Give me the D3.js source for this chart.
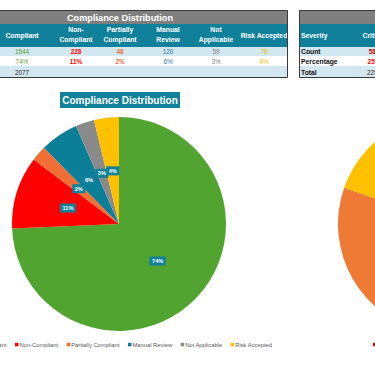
<!DOCTYPE html>
<html>
<head>
<meta charset="utf-8">
<script src="https://cdn.jsdelivr.net/npm/d3@7"></script>
<style>
  body { margin: 0; background: #fff; }
  svg { display: block; font-family: "Liberation Sans", Arial, sans-serif; }
</style>
</head>
<body>
<div class="dashboard"></div>
<script>
let width = 375
let height = 366

// compliance data
let categories = ['Compliant', 'Non-Compliant', 'Partially Compliant', 'Manual Review', 'Not Applicable', 'Risk Accepted']
let header_lines = [['Compliant'], ['Non-', 'Compliant'], ['Partially', 'Compliant'], ['Manual', 'Review'], ['Not', 'Applicable'], ['Risk Accepted']]
let counts = [1544, 228, 48, 120, 59, 78]
let total = 2077
let slice_colors = ['#52a431', '#ff0000', '#ef6f35', '#0b7e98', '#8a8a8a', '#ffc000']
let text_colors = ['#5a9e3a', '#ff0000', '#f0703a', '#2a78a0', '#7f7f7f', '#f5b800']

// severity data (only the left part is on screen)
let severities = ['Critical', 'High', 'Medium']
let sev_counts = [580, 1260, 450]
let sev_total = 2290
let sev_colors = ['#ff0000', '#ef7a36', '#ffc000']

let teal = '#11809a'
let lightBlue = '#d2e8f0'
let pct = d3.format('.0%')

const svg = d3.create("svg")
    .attr("width", width)
    .attr("height", height)

// attach first so text can be measured
d3.select(".dashboard").node().append(svg.node())

// ---------- left table ----------
let colX = d3.scaleOrdinal().domain(categories).range([22, 76, 120, 168, 216, 264])
let tLeft = 0, tRight = 287

svg.append("rect").attr("x", tLeft).attr("y", 10).attr("width", tRight - tLeft).attr("height", 14)
    .attr("fill", "#7f7f7f")
svg.append("text").attr("x", 120).attr("y", 20.5).attr("text-anchor", "middle")
    .attr("font-size", 9.2).attr("font-weight", "bold").attr("fill", "#fff")
    .text("Compliance Distribution")
svg.append("rect").attr("x", tLeft).attr("y", 24).attr("width", tRight - tLeft).attr("height", 23).attr("fill", teal)

let rows = [
    { y: 47, h: 9, fill: lightBlue },
    { y: 56, h: 10, fill: '#fff' },
    { y: 66, h: 11, fill: lightBlue }
]
svg.append("g").selectAll("rect").data(rows).join("rect")
    .attr("x", tLeft).attr("y", d => d.y).attr("width", tRight - tLeft).attr("height", d => d.h)
    .attr("fill", d => d.fill)

let hdr = svg.append("g").attr("font-size", 6.8).attr("font-weight", "bold").attr("fill", "#fff")
    .attr("text-anchor", "middle")
    .selectAll("text").data(categories).join("text")
    .attr("x", d => colX(d))
    .attr("y", (d, i) => header_lines[i].length > 1 ? 32 : 37.5)
hdr.selectAll("tspan").data((d, i) => header_lines[i]).join("tspan")
    .attr("x", function() { return this.parentNode.getAttribute("x") })
    .attr("dy", (d, i) => i ? 10 : 0)
    .text(d => d)

svg.append("g").attr("font-size", 6.4).attr("text-anchor", "middle")
    .selectAll("text").data(counts).join("text")
    .attr("x", (d, i) => colX(categories[i])).attr("y", 54)
    .attr("fill", (d, i) => text_colors[i])
    .attr("font-weight", (d, i) => i === 1 || i === 2 ? "bold" : null)
    .text(d => d)
svg.append("g").attr("font-size", 6.4).attr("text-anchor", "middle")
    .selectAll("text").data(counts).join("text")
    .attr("x", (d, i) => colX(categories[i])).attr("y", 63.5)
    .attr("fill", (d, i) => text_colors[i])
    .attr("font-weight", (d, i) => i === 1 || i === 2 ? "bold" : null)
    .text(d => pct(d / total))
svg.append("text").attr("x", colX(categories[0])).attr("y", 74.5).attr("text-anchor", "middle")
    .attr("font-size", 6.4).attr("fill", "#262626").text(total)

svg.append("path").attr("d", `M${tLeft},10.5H${tRight}.5V77.5H${tLeft}`)
    .attr("fill", "none").attr("stroke", "#3a3a3a").attr("stroke-width", 1)

// ---------- right table ----------
let rLeft = 299
let sevX = d3.scaleOrdinal().domain(severities).range([374, 422, 470])
svg.append("rect").attr("x", rLeft).attr("y", 10).attr("width", 80).attr("height", 14).attr("fill", "#7f7f7f")
svg.append("rect").attr("x", rLeft).attr("y", 24).attr("width", 80).attr("height", 23).attr("fill", teal)
svg.append("g").selectAll("rect").data(rows).join("rect")
    .attr("x", rLeft).attr("y", d => d.y).attr("width", 80).attr("height", d => d.h)
    .attr("fill", d => d.fill)
svg.append("text").attr("x", 301).attr("y", 37.5).attr("font-size", 6.8).attr("font-weight", "bold")
    .attr("fill", "#fff").text("Severity")
svg.append("g").attr("font-size", 6.8).attr("font-weight", "bold").attr("fill", "#fff").attr("text-anchor", "middle")
    .selectAll("text").data(severities).join("text")
    .attr("x", d => sevX(d)).attr("y", 37.5).text(d => d)
svg.append("g").attr("font-size", 6.8).attr("font-weight", "bold").attr("fill", "#111")
    .selectAll("text").data(['Count', 'Percentage', 'Total']).join("text")
    .attr("x", 301).attr("y", (d, i) => [54, 63.5, 74.5][i]).text(d => d)
svg.append("g").attr("font-size", 6.4).attr("font-weight", "bold").attr("text-anchor", "middle")
    .selectAll("text").data(sev_counts).join("text")
    .attr("x", (d, i) => sevX(severities[i])).attr("y", 54).attr("fill", (d, i) => i === 0 ? '#c00000' : '#333')
    .text(d => d)
svg.append("g").attr("font-size", 6.4).attr("font-weight", "bold").attr("text-anchor", "middle")
    .selectAll("text").data(sev_counts).join("text")
    .attr("x", (d, i) => sevX(severities[i])).attr("y", 63.5).attr("fill", (d, i) => i === 0 ? '#ff0000' : '#333')
    .text(d => pct(d / sev_total))
svg.append("text").attr("x", sevX(severities[0])).attr("y", 74.5).attr("text-anchor", "middle")
    .attr("font-size", 6.4).attr("fill", "#262626").text(sev_total)
svg.append("path").attr("d", `M${rLeft}.5,10V77.5H380M${rLeft},10.5H380`)
    .attr("fill", "none").attr("stroke", "#3a3a3a").attr("stroke-width", 1)

// ---------- compliance pie ----------
let cx = 119, cy = 224, radius = 107
let pie = d3.pie().sort(null).value(d => d)
let arc = d3.arc().innerRadius(0).outerRadius(radius)
let labelArc = d3.arc().innerRadius(radius * 0.5).outerRadius(radius * 0.5)

let pieG = svg.append("g").attr("transform", `translate(${cx},${cy})`)
let arcs = pie(counts)
pieG.selectAll("path").data(arcs).join("path")
    .attr("fill", (d, i) => slice_colors[i])
    .attr("d", arc)

let lab = pieG.append("g").attr("font-size", 5.6).attr("font-weight", "bold")
    .selectAll("g").data(arcs).join("g")
    .attr("transform", d => `translate(${labelArc.centroid(d)})`)
lab.append("rect").attr("fill", teal)
lab.append("text").attr("fill", "#fff").attr("text-anchor", "middle").attr("dy", "0.35em")
    .text(d => pct(d.data / total))
lab.each(function() {
    let g = d3.select(this)
    let w = g.select("text").node().getComputedTextLength() + 5
    g.select("rect").attr("x", -w / 2).attr("y", -4.5).attr("width", w).attr("height", 9)
})

// pie title
let title = svg.append("g")
title.append("rect").attr("x", 60).attr("y", 92).attr("width", 120).attr("height", 16).attr("fill", teal)
title.append("text").attr("x", 120).attr("y", 104).attr("text-anchor", "middle")
    .attr("font-size", 10).attr("font-weight", "bold").attr("fill", "#fff")
    .text("Compliance Distribution")

// ---------- severity pie ----------
let sx = 448, sy = 224
let sevG = svg.append("g").attr("transform", `translate(${sx},${sy})`)
sevG.selectAll("path").data(pie(sev_counts)).join("path")
    .attr("fill", (d, i) => sev_colors[i])
    .attr("d", d3.arc().innerRadius(0).outerRadius(110))

// ---------- legends ----------
// x0 is where the legend item number "anchor" starts
function legend(names, colors, x0, anchor) {
    let g = svg.append("g").attr("font-size", 5.8).attr("fill", "#595959")
    let items = g.selectAll("g").data(names).join("g")
    items.append("rect").attr("width", 3.5).attr("height", 3.5).attr("y", -3.2).attr("fill", (d, i) => colors[i])
    items.append("text").attr("x", 4.5).attr("y", 0.5).text(d => d)
    let x = 0, offs = []
    items.each(function() {
        let w = d3.select(this).select("text").node().getComputedTextLength()
        d3.select(this).attr("transform", `translate(${x},0)`)
        offs.push(x)
        x += 4.5 + w + 8.5
    })
    g.attr("transform", `translate(${x0 - offs[anchor]},346)`)
}
legend(categories, slice_colors, 15, 1)
legend(severities, sev_colors, 373, 0)
</script>
</body>
</html>
